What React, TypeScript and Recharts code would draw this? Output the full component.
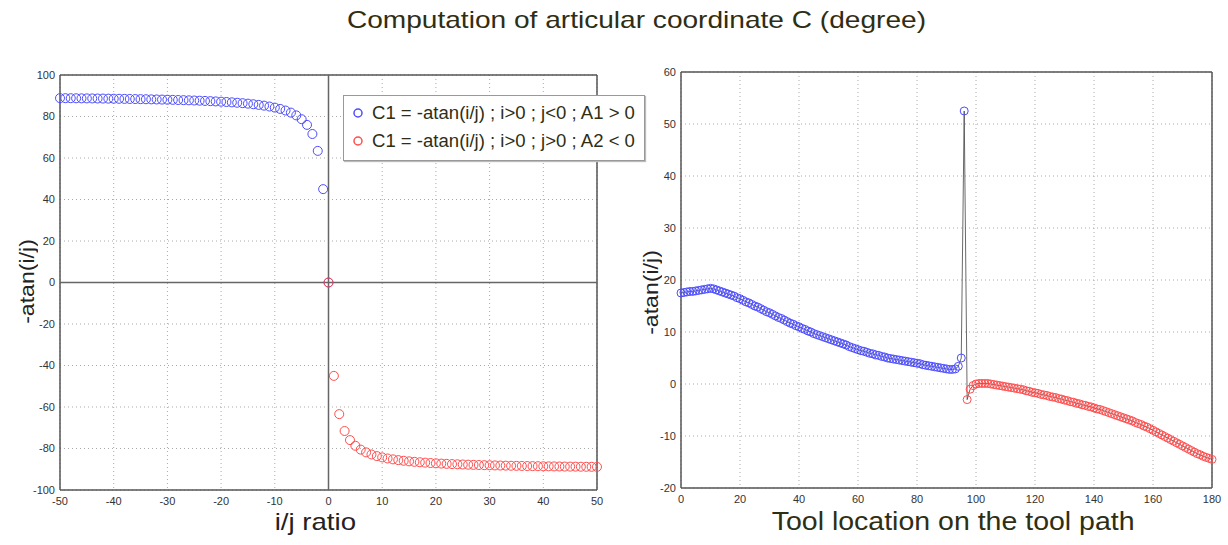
import React from 'react'
import {
  ScatterChart, Scatter, LineChart, Line, XAxis, YAxis, CartesianGrid, ReferenceLine
} from 'recharts'

// --- left panel: -atan(i/j) against the i/j ratio ---
const ratioTicks = [-50, -40, -30, -20, -10, 0, 10, 20, 30, 40, 50]
const angleTicks = [-100, -80, -60, -40, -20, 0, 20, 40, 60, 80, 100]

// blue: ratio -50 .. 0
const blueAngles = [
  88.85, 88.83, 88.81, 88.78, 88.75, 88.73, 88.70, 88.67, 88.64, 88.60,
  88.57, 88.53, 88.49, 88.45, 88.41, 88.36, 88.32, 88.26, 88.21, 88.15,
  88.09, 88.03, 87.95, 87.88, 87.80, 87.71, 87.61, 87.51, 87.40, 87.27,
  87.14, 86.99, 86.82, 86.63, 86.42, 86.19, 85.91, 85.60, 85.24, 84.81,
  84.29, 83.66, 82.87, 81.87, 80.54, 78.69, 75.96, 71.57, 63.43, 45.0,
  0
]
// red: ratio 0 .. 50
const redAngles = [
  0,
  -45.0, -63.43, -71.57, -75.96, -78.69, -80.54, -81.87, -82.87, -83.66, -84.29,
  -84.81, -85.24, -85.60, -85.91, -86.19, -86.42, -86.63, -86.82, -86.99, -87.14,
  -87.27, -87.40, -87.51, -87.61, -87.71, -87.80, -87.88, -87.95, -88.03, -88.09,
  -88.15, -88.21, -88.26, -88.32, -88.36, -88.41, -88.45, -88.49, -88.53, -88.57,
  -88.60, -88.64, -88.67, -88.70, -88.73, -88.75, -88.78, -88.81, -88.83, -88.85
]

// --- right panel: angle along the tool path ---
const toolTicks = [0, 20, 40, 60, 80, 100, 120, 140, 160, 180]
const toolAngleTicks = [-20, -10, 0, 10, 20, 30, 40, 50, 60]

// blue: locations 0 .. 96
const blueTool = [
  17.5, 17.6, 17.7, 17.8, 17.8, 17.9, 18.0, 18.1, 18.2, 18.3,
  18.4, 18.3, 18.1, 17.9, 17.7, 17.5, 17.3, 17.1, 16.9, 16.6,
  16.4, 16.1, 15.8, 15.6, 15.3, 15.0, 14.8, 14.5, 14.2, 13.9,
  13.7, 13.4, 13.1, 12.8, 12.6, 12.3, 12.0, 11.7, 11.5, 11.2,
  11.0, 10.7, 10.5, 10.2, 10.0, 9.7, 9.5, 9.3, 9.1, 8.9,
  8.7, 8.5, 8.3, 8.1, 7.9, 7.7, 7.5, 7.2, 7.0, 6.8,
  6.6, 6.4, 6.3, 6.1, 5.9, 5.8, 5.6, 5.5, 5.3, 5.2,
  5.0, 4.9, 4.8, 4.7, 4.6, 4.5, 4.4, 4.3, 4.2, 4.1,
  4.0, 3.9, 3.7, 3.6, 3.5, 3.4, 3.3, 3.2, 3.1, 3.0,
  2.9, 2.8, 2.8, 2.9, 3.4, 5.0, 52.5
]
// red: locations 97 .. 180
const redTool = [
  -3.0, -1.0, -0.3,
  0.0, 0.1, 0.1, 0.1, 0.1, 0.0, -0.1, -0.2, -0.3, -0.4,
  -0.5, -0.6, -0.7, -0.8, -0.9, -1.0, -1.1, -1.3, -1.4, -1.6,
  -1.7, -1.8, -2.0, -2.1, -2.2, -2.4, -2.5, -2.6, -2.8, -2.9,
  -3.1, -3.2, -3.4, -3.5, -3.7, -3.8, -4.0, -4.1, -4.3, -4.4,
  -4.6, -4.8, -4.9, -5.1, -5.3, -5.5, -5.7, -5.9, -6.1, -6.3,
  -6.5, -6.7, -6.9, -7.1, -7.4, -7.6, -7.8, -8.1, -8.3, -8.6,
  -8.9, -9.2, -9.5, -9.8, -10.1, -10.4, -10.7, -11.0, -11.3, -11.6,
  -11.9, -12.2, -12.5, -12.8, -13.1, -13.4, -13.6, -13.9, -14.1, -14.3,
  -14.5
]

const legendLabels = [
  'C1 = -atan(i/j) ; i>0 ; j<0 ; A1 > 0',
  'C1 = -atan(i/j) ; i>0 ; j>0 ; A2 < 0'
]

const FONT = '"Liberation Sans", Arial, sans-serif'
const BLUE = '#4d4dff'
const RED = '#ff4d4d'
const FRAME = '#555'
const OLIVE = '#2e2e14'
const tickStyle = { fontSize: 11, fill: '#333', fontFamily: FONT }

const blueLeft = blueAngles.map((v, i) => ({ ratio: i - 50, angle: v }))
const redLeft = redAngles.map((v, i) => ({ ratio: i, angle: v }))

const toolData = [...blueTool, ...redTool].map((v, i) => ({
  loc: i,
  path: v,
  blue: i < blueTool.length ? v : null,
  red: i >= blueTool.length ? v : null,
}))

// open circle for the scatter
const ring = (color: string, r: number) => (props: any) => (
  <circle cx={props.cx} cy={props.cy} r={r} fill="none" stroke={color} strokeWidth={1} />
)

// open circle dot for a line; skip the empty rows of the split series
const lineRing = (color: string, r: number) => (props: any) => {
  const k = `d${props.index}`
  if (props.cy == null || props.value == null || (Array.isArray(props.value) && props.value[1] == null)) {
    return <g key={k} />
  }
  return <circle key={k} cx={props.cx} cy={props.cy} r={r} fill="none" stroke={color} strokeWidth={1} />
}

// text a bit wider than the font draws it, like the original export
function Stretch({ children, sx = 1.15, style }: { children: React.ReactNode; sx?: number; style?: React.CSSProperties }) {
  return (
    <span style={{ display: 'inline-block', transform: `scaleX(${sx})`, transformOrigin: 'center', whiteSpace: 'nowrap', ...style }}>
      {children}
    </span>
  )
}

export default function App() {
  const abs = (s: React.CSSProperties): React.CSSProperties => ({ position: 'absolute', ...s })
  return (
    <div style={{ position: 'absolute', left: 0, top: 0, width: 1228, height: 545, background: '#fff', fontFamily: FONT }}>
      <div style={abs({ left: 22, top: 6, width: 1228, textAlign: 'center', fontSize: 24, lineHeight: '28px', color: OLIVE })}>
        <Stretch sx={1.17}>Computation of articular coordinate C (degree)</Stretch>
      </div>

      <div style={abs({ left: 0, top: 0 })}>
        <ScatterChart width={640} height={545} margin={{ top: 75, right: 43, bottom: 35, left: 30 }}>
          <CartesianGrid stroke="#aaa" strokeDasharray="1 3" />
          <XAxis type="number" dataKey="ratio" domain={[-50, 50]} ticks={ratioTicks}
            tick={tickStyle} tickSize={0} tickMargin={7} axisLine={false} height={20} />
          <YAxis type="number" dataKey="angle" domain={[-100, 100]} ticks={angleTicks}
            tick={tickStyle} tickSize={0} tickMargin={5} axisLine={false} width={30} />
          <ReferenceLine x={-50} stroke={FRAME} strokeWidth={1.5} />
          <ReferenceLine x={50} stroke={FRAME} strokeWidth={1.5} />
          <ReferenceLine y={100} stroke={FRAME} strokeWidth={1.5} />
          <ReferenceLine y={-100} stroke={FRAME} strokeWidth={1.5} />
          <ReferenceLine x={0} stroke="#666" strokeWidth={1.5} />
          <ReferenceLine y={0} stroke="#666" strokeWidth={1.5} />
          <Scatter data={blueLeft} shape={ring(BLUE, 4.5)} isAnimationActive={false} />
          <Scatter data={redLeft} shape={ring(RED, 4.5)} isAnimationActive={false} />
        </ScatterChart>
      </div>

      <div style={abs({ left: 620, top: 0 })}>
        <LineChart width={608} height={545} data={toolData} margin={{ top: 72, right: 16, bottom: 37, left: 31 }}>
          <CartesianGrid stroke="#aaa" strokeDasharray="1 3" />
          <XAxis type="number" dataKey="loc" domain={[0, 180]} ticks={toolTicks}
            tick={tickStyle} tickSize={0} tickMargin={7} axisLine={false} height={20} />
          <YAxis type="number" domain={[-20, 60]} ticks={toolAngleTicks}
            tick={tickStyle} tickSize={0} tickMargin={5} axisLine={false} width={30} />
          <ReferenceLine x={0} stroke={FRAME} strokeWidth={1.5} />
          <ReferenceLine x={180} stroke={FRAME} strokeWidth={1.5} />
          <ReferenceLine y={60} stroke={FRAME} strokeWidth={1.5} />
          <ReferenceLine y={-20} stroke={FRAME} strokeWidth={1.5} />
          <Line dataKey="blue" stroke="none" dot={lineRing(BLUE, 4)} activeDot={false} isAnimationActive={false} />
          <Line dataKey="red" stroke="none" dot={lineRing(RED, 4)} activeDot={false} isAnimationActive={false} />
          <Line dataKey="path" stroke="#444" strokeWidth={0.8} dot={false} activeDot={false} isAnimationActive={false} />
        </LineChart>
      </div>

      {/* legend box of the left panel */}
      <div style={abs({ left: 343, top: 95, width: 300, height: 64, border: '1px solid #999', background: '#fff', boxShadow: '1px 1px 1px #bbb' })}>
        {legendLabels.map((t, i) => (
          <div key={t} style={abs({ left: 0, top: 4 + i * 28, width: 300, height: 26 })}>
            <svg width={14} height={14} style={{ position: 'absolute', left: 7, top: 6 }}>
              <circle cx={7} cy={7} r={4} fill="none" stroke={i === 0 ? BLUE : RED} strokeWidth={1.5} />
            </svg>
            <div style={abs({ left: 28, top: 0, fontSize: 17.5, lineHeight: '26px', color: OLIVE })}>
              <Stretch sx={1.06} style={{ transformOrigin: 'left center' }}>{t}</Stretch>
            </div>
          </div>
        ))}
      </div>

      <div style={abs({ left: 215, top: 507, width: 200, textAlign: 'center', fontSize: 24, lineHeight: '30px', color: '#222' })}>
        <Stretch sx={1.15}>i/j ratio</Stretch>
      </div>
      <div style={abs({ left: 753, top: 506, width: 400, textAlign: 'center', fontSize: 25, lineHeight: '30px', color: OLIVE })}>
        <Stretch sx={1.14}>Tool location on the tool path</Stretch>
      </div>
      <div style={abs({ left: 27 - 80, top: 281 - 15, width: 160, height: 30, textAlign: 'center', fontSize: 21, lineHeight: '30px', color: '#222', transform: 'rotate(-90deg)' })}>
        <Stretch sx={1.1}>-atan(i/j)</Stretch>
      </div>
      <div style={abs({ left: 651 - 80, top: 292 - 15, width: 160, height: 30, textAlign: 'center', fontSize: 21, lineHeight: '30px', color: '#222', transform: 'rotate(-90deg)' })}>
        <Stretch sx={1.1}>-atan(i/j)</Stretch>
      </div>
    </div>
  )
}
